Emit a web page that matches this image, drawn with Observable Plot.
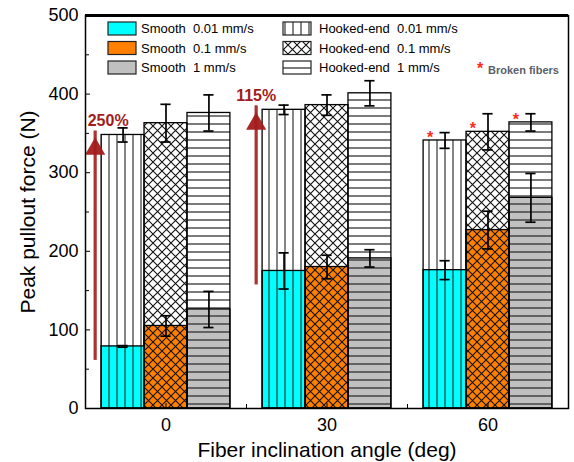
<!DOCTYPE html>
<html>
<head>
<meta charset="utf-8">
<script src="https://cdn.jsdelivr.net/npm/d3@7"></script>
<script src="https://cdn.jsdelivr.net/npm/@observablehq/plot@0.6"></script>
<style>
  html, body { margin: 0; padding: 0; background: #fff; }
  #chart { width: 574px; height: 462px; }
  svg { font-family: Arial, "Liberation Sans", sans-serif; }
</style>
</head>
<body>
<div id="chart"></div>
<script>
// ---------------- data ----------------
const angles = [0, 30, 60];
const speeds = ["0.01 mm/s", "0.1 mm/s", "1 mm/s"];

const smooth001 = [79, 175, 176];
const smooth001Err = [1, 23, 12];
const smooth01 = [105, 180, 227];
const smooth01Err = [13, 15, 24];
const smooth1 = [126, 191, 268];
const smooth1Err = [23, 11, 31];

const hooked001 = [348, 380, 341];
const hooked001Err = [9, 6, 10];
const hooked01 = [363, 386, 352];
const hooked01Err = [24, 13, 23];
const hooked1 = [376, 401, 364];
const hooked1Err = [23, 16, 11];

const brokenFibers = [false, false, true];

const annoAngles = [0, 30];
const annoLabels = ["250%", "115%"];

const yTicks = [0, 100, 200, 300, 400, 500];
const yMinorTicks = [50, 150, 250, 350, 450];
const xTicks = [0, 30, 60];
const xMinorTicks = [15, 45];

// ---------------- styling / layout ----------------
const smoothColors = ["#00ffff", "#ff8000", "#c0c0c0"];
const patIds = ["pat-vert", "pat-cross", "pat-horiz"];
const annoRed = "#a31c1c";
const barW = 8;      // bar width in x units
const capW = 0.95;   // half-width of error caps in x units
const annoShift = [13, 0]; // label shift (px) relative to arrow

const smoothMeans = [smooth001, smooth01, smooth1];
const smoothErrs = [smooth001Err, smooth01Err, smooth1Err];
const hookedMeans = [hooked001, hooked01, hooked1];
const hookedErrs = [hooked001Err, hooked01Err, hooked1Err];

const rows = [];
angles.forEach((a, j) => speeds.forEach((s, i) => rows.push({
  angle: a, speed: i, x: a + (i - 1) * barW,
  smooth: smoothMeans[i][j], smoothErr: smoothErrs[i][j],
  hooked: hookedMeans[i][j], hookedErr: hookedErrs[i][j],
  broken: brokenFibers[j]
})));

const annos = annoAngles.map((a, k) => {
  const j = angles.indexOf(a);
  return {x: a - 1.65 * barW, from: smooth001[j], to: hooked001[j], label: annoLabels[k], shift: annoShift[k]};
});

const bx1 = d => d.x - barW / 2, bx2 = d => d.x + barW / 2;

const marks = [
  // hooked-end bars (white background)
  Plot.rect(rows, {x1: bx1, x2: bx2, y1: 0, y2: "hooked", fill: "white"}),
  // smooth bars (solid colour)
  Plot.rect(rows, {x1: bx1, x2: bx2, y1: 0, y2: "smooth", fill: d => smoothColors[d.speed]}),
  // pattern overlays
  ...[0, 1, 2].map(i => Plot.rect(rows.filter(d => d.speed === i),
    {x1: bx1, x2: bx2, y1: 0, y2: "hooked", fill: `url(#${patIds[i]})`})),
  // outlines
  Plot.rect(rows, {x1: bx1, x2: bx2, y1: 0, y2: "hooked", fill: "none", stroke: "black", strokeWidth: 1.3}),
  Plot.rect(rows, {x1: bx1, x2: bx2, y1: 0, y2: "smooth", fill: "none", stroke: "black", strokeWidth: 1.3}),
  // minor & major ticks
  Plot.axisY({ticks: yMinorTicks, tickSize: -4, tickFormat: () => "", label: null}),
  Plot.axisX({ticks: xMinorTicks, tickSize: -4, tickFormat: () => "", label: null}),
  Plot.axisY({ticks: yTicks, tickSize: -5, tickPadding: 12, fontSize: 18,
    label: "Peak pullout force (N)", labelAnchor: "center", labelArrow: "none", labelOffset: 65}),
  Plot.axisX({ticks: xTicks, tickSize: -5, tickPadding: 15, fontSize: 18,
    label: "Fiber inclination angle (deg)", labelAnchor: "center", labelArrow: "none", labelOffset: 48}),
  // error bars
  Plot.ruleX(rows, {x: "x", y1: d => d.hooked - d.hookedErr, y2: d => d.hooked + d.hookedErr, strokeWidth: 1.7}),
  Plot.ruleY(rows, {y: d => d.hooked + d.hookedErr, x1: d => d.x - capW, x2: d => d.x + capW, strokeWidth: 1.7}),
  Plot.ruleY(rows, {y: d => d.hooked - d.hookedErr, x1: d => d.x - capW, x2: d => d.x + capW, strokeWidth: 1.7}),
  Plot.ruleX(rows, {x: "x", y1: d => d.smooth - d.smoothErr, y2: d => d.smooth + d.smoothErr, strokeWidth: 1.7}),
  Plot.ruleY(rows, {y: d => d.smooth + d.smoothErr, x1: d => d.x - capW, x2: d => d.x + capW, strokeWidth: 1.7}),
  Plot.ruleY(rows, {y: d => d.smooth - d.smoothErr, x1: d => d.x - capW, x2: d => d.x + capW, strokeWidth: 1.7}),
  // broken fiber stars
  Plot.text(rows.filter(d => d.broken), {x: d => d.x - 2.8, y: "hooked", text: () => "*",
    fill: "#ff2a1a", fontSize: 16, fontWeight: "bold", dy: -3}),
  // increase arrows
  Plot.ruleX(annos, {x: "x", y1: "from", y2: "to", stroke: annoRed, strokeWidth: 3.2,
    insetTop: 14, insetBottom: 4, strokeOpacity: 0.9}),
  Plot.dot(annos, {x: "x", y: "to", symbol: "triangle", r: 7.5, fill: annoRed, dy: 14, fillOpacity: 0.95}),
  ...annos.map(a => Plot.text([a], {x: "x", y: "to", text: "label",
    dx: a.shift, dy: -14, fill: annoRed, fontSize: 16, fontWeight: "bold"})),
  // frame
  Plot.frame({stroke: "black", strokeWidth: 1.5}),
  Plot.ruleY([500], {stroke: "black", strokeWidth: 3})
];

const svg = Plot.plot({
  width: 574,
  height: 462,
  marginTop: 15,
  marginBottom: 54,
  marginLeft: 85,
  marginRight: 6,
  x: {domain: [-15, 75]},
  y: {domain: [0, 500]},
  color: {type: "identity"},
  style: {fontFamily: "Arial, 'Liberation Sans', sans-serif", fontSize: "18px", background: "white", color: "black"},
  marks
});

// ---------------- patterns ----------------
const s = d3.select(svg);
const defs = s.insert("defs", ":first-child");
const pv = defs.append("pattern").attr("id", "pat-vert").attr("patternUnits", "userSpaceOnUse")
  .attr("width", 8).attr("height", 8);
pv.append("path").attr("d", "M5,-1V9").attr("stroke", "#222").attr("stroke-width", 1.1);
const pc = defs.append("pattern").attr("id", "pat-cross").attr("patternUnits", "userSpaceOnUse")
  .attr("width", 9).attr("height", 9);
pc.append("path").attr("d", "M-1,-1L10,10M10,-1L-1,10").attr("stroke", "#111").attr("stroke-width", 1.1).attr("fill", "none");
const ph = defs.append("pattern").attr("id", "pat-horiz").attr("patternUnits", "userSpaceOnUse")
  .attr("width", 8).attr("height", 8);
ph.append("path").attr("d", "M-1,4H9").attr("stroke", "#222").attr("stroke-width", 1.2);

// axis label sizes
s.selectAll('[aria-label="y-axis label"] text, [aria-label="x-axis label"] text').style("font-size", "21px");

// ---------------- legend ----------------
const lg = s.append("g").attr("font-size", 13).attr("text-anchor", "start")
  .attr("xml:space", "preserve").style("white-space", "pre");
speeds.forEach((sp, i) => {
  const top = 22 + i * 19.5;
  lg.append("rect").attr("x", 108).attr("y", top).attr("width", 28).attr("height", 13)
    .attr("fill", smoothColors[i]).attr("stroke", "#222").attr("stroke-width", 1.2);
  lg.append("text").attr("x", 141).attr("y", top + 11).text(`Smooth  ${sp}`);
  lg.append("rect").attr("x", 283).attr("y", top).attr("width", 28).attr("height", 13)
    .attr("fill", "white").attr("stroke", "none");
  lg.append("rect").attr("x", 283).attr("y", top).attr("width", 28).attr("height", 13)
    .attr("fill", `url(#${patIds[i]})`).attr("stroke", "#222").attr("stroke-width", 1.2);
  lg.append("text").attr("x", 319).attr("y", top + 11).text(`Hooked-end  ${sp}`);
});
lg.append("text").attr("x", 477).attr("y", 74).attr("fill", "#ff2a1a").attr("font-size", 16)
  .attr("font-weight", "bold").text("*");
lg.append("text").attr("x", 488).attr("y", 73.5).attr("fill", "#5b6068").attr("font-size", 11)
  .attr("font-weight", "bold").text("Broken fibers");

document.getElementById("chart").appendChild(svg);
</script>
</body>
</html>
